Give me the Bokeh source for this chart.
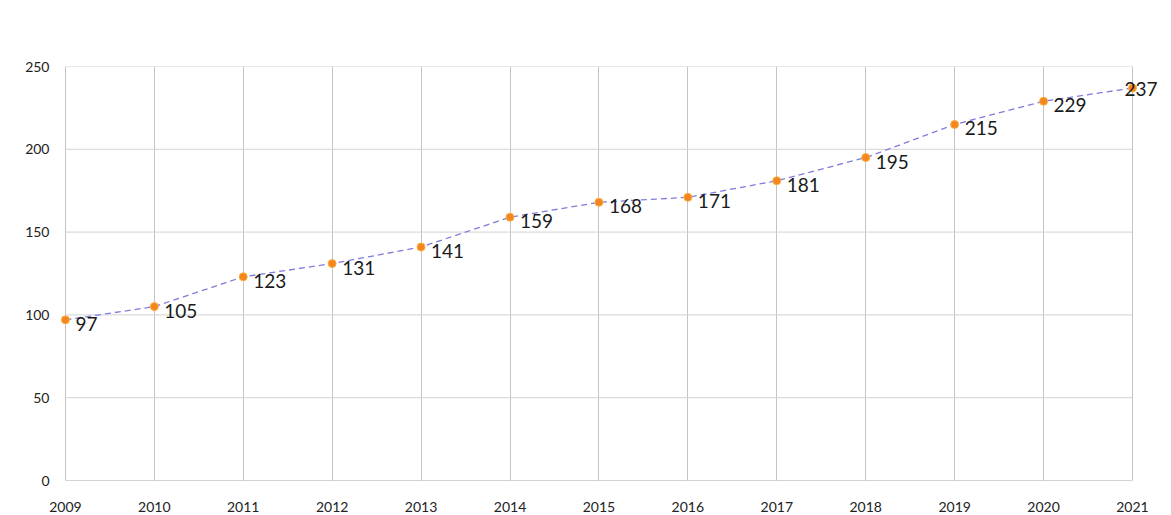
from bokeh.plotting import figure
from bokeh.models import Range1d, FixedTicker, ColumnDataSource, LabelSet, Label
from bokeh.core.properties import value
from bokeh.embed import file_html
from bokeh.resources import INLINE

years = [2009, 2010, 2011, 2012, 2013, 2014, 2015, 2016, 2017, 2018, 2019, 2020, 2021]
values = [97, 105, 123, 131, 141, 159, 168, 171, 181, 195, 215, 229, 237]
labels = [str(v) for v in values]
y_ticks = [0, 50, 100, 150, 200, 250]

src = ColumnDataSource(dict(x=years, y=values, t=labels))
src_lbl = ColumnDataSource(dict(x=years[:-1], y=values[:-1], t=labels[:-1]))

x_start, x_end = years[0], years[-1]
p = figure(width=1168, height=514, output_backend="svg", toolbar_location=None,
           x_range=Range1d(x_start - 0.1, x_end + 0.36), y_range=Range1d(0, 250),
           min_border_left=56, min_border_right=4, min_border_top=66, min_border_bottom=31)
p.outline_line_color = None
p.background_fill_color = "white"
p.border_fill_color = "white"

p.xaxis.ticker = FixedTicker(ticks=years)
p.yaxis.ticker = FixedTicker(ticks=y_ticks)
for ax in (p.xaxis, p.yaxis):
    ax.axis_line_color = None
    ax.major_tick_line_color = None
    ax.minor_tick_line_color = None
    ax.major_label_text_font = "Lato"
    ax.major_label_text_color = "#222222"
    ax.major_label_text_font_size = "14px"
p.xaxis.major_label_standoff = 15
p.yaxis.major_label_standoff = 1

p.xgrid.grid_line_color = "#c4c4c4"
p.xgrid.grid_line_width = 1
p.ygrid.grid_line_color = None

# horizontal gridlines only across the year span
p.segment(x0=[x_start] * (len(y_ticks) - 1), x1=[x_end] * (len(y_ticks) - 1),
          y0=y_ticks[1:], y1=y_ticks[1:], line_color="#d2d2d2", line_width=1)
# baseline at zero
p.segment(x0=[x_start], x1=[x_end], y0=[0], y1=[0], line_color="#a8a8a8", line_width=1.2)

p.line("x", "y", source=src, line_color="#7f7cdc", line_width=1.3, line_dash="6 4")
p.scatter("x", "y", source=src, size=8, fill_color="#f5861f", line_color="#f9b040", line_width=1)

lbl = LabelSet(x="x", y="y", text="t", source=src_lbl, x_offset=10, y_offset=-4,
               text_baseline="middle", text_align="left", text_font=value("Lato"),
               text_font_size="19px", text_color="#1a1a1a")
p.add_layout(lbl)
last = Label(x=years[-1], y=values[-1], text=labels[-1], x_offset=-8, y_offset=-1,
             text_baseline="middle", text_align="left", text_font="Lato",
             text_font_size="19px", text_color="#1a1a1a")
p.add_layout(last)

open("out.html", "w").write(file_html(p, INLINE))
